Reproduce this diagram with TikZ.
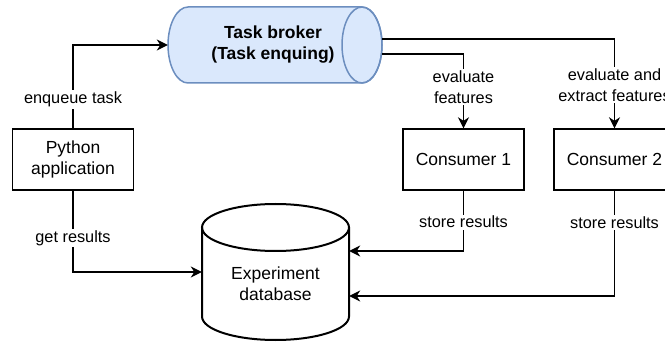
\documentclass[tikz,border=0pt]{standalone}
\usepackage{fontspec}
\setmainfont{Liberation Sans}
\usetikzlibrary{arrows.meta}
\definecolor{brokerfill}{HTML}{DAE8FC}
\definecolor{brokerline}{HTML}{6C8EBF}
\tikzset{
  every node/.style={font=\fontsize{17.5}{21}\selectfont, align=center},
  procbox/.style={draw, line width=1.4pt, minimum width=121pt, minimum height=61pt, inner sep=0pt},
  hidden/.style={inner sep=0pt},
  link/.style={line width=1.4pt, -{Stealth[length=11pt,width=11pt,inset=3.5pt]}},
  tag/.style={fill=white, inner sep=1.5pt, font=\fontsize{16.3}{21}\selectfont},
}
\begin{document}
\begin{tikzpicture}[x=1pt, y=-1pt]
\path[use as bounding box, clip] (0,0) rectangle (665,342);

% task broker: horizontal cylinder
\path[fill=brokerfill, draw=brokerline, line width=1.5pt]
  (188,7) -- (362,7) arc[start angle=-90, end angle=90, x radius=20, y radius=38]
  -- (188,83) arc[start angle=90, end angle=270, x radius=20, y radius=38] -- cycle;
\draw[brokerline, line width=1.5pt] (362,45) ellipse[x radius=20, y radius=38];
\node[hidden, minimum width=214pt, minimum height=76pt] (broker) at (275,45)
  {\hspace*{-4pt}\textbf{Task broker}\\\hspace*{-4pt}\textbf{(Task enquing)}};

% experiment database: vertical cylinder (body, then open outline, then lid)
\path[fill=white]
  (202,227.5) -- (202,316.5) arc[start angle=180, end angle=0, x radius=73.5, y radius=23.5]
  -- (349,227.5) -- cycle;
\draw[line width=2pt]
  (202,227.5) -- (202,316.5) arc[start angle=180, end angle=0, x radius=73.5, y radius=23.5]
  -- (349,227.5);
\draw[line width=2pt] (275.5,227.5) ellipse[x radius=73.5, y radius=23.5];
\node[hidden, minimum width=147pt, minimum height=136pt] (db) at (275.5,272) {};
\node[hidden] (dbtext) at ([yshift=-12pt]db.center) {Experiment\\database};

% process boxes
\node[procbox] (py) at (73,159.5) {Python\\application};
\node[procbox] (c1) at (463.5,159.5) {Consumer 1};
\node[procbox] (c2) at (614.5,159.5) {Consumer 2};

% connectors
\draw[link] (py.north) |- node[tag, pos=0.173] {enqueue task} (broker.west);
\draw[link] ([yshift=-9pt]broker.east) -| node[tag, pos=0.72] {evaluate\\features} (c1.north);
\draw[link] ([yshift=6pt]broker.east) -| node[tag, pos=0.758] {evaluate and\\extract features} (c2.north);
\draw[link] (py.south) |- node[tag, pos=0.29] {get results} (db.west);
\draw[link] (c1.south) |- node[tag, pos=0.26] {store results} ([yshift=21pt]db.east);
\draw[link] (c2.south) |- node[tag, pos=0.15] {store results} ([yshift=-24pt]db.east);
\end{tikzpicture}
\end{document}
